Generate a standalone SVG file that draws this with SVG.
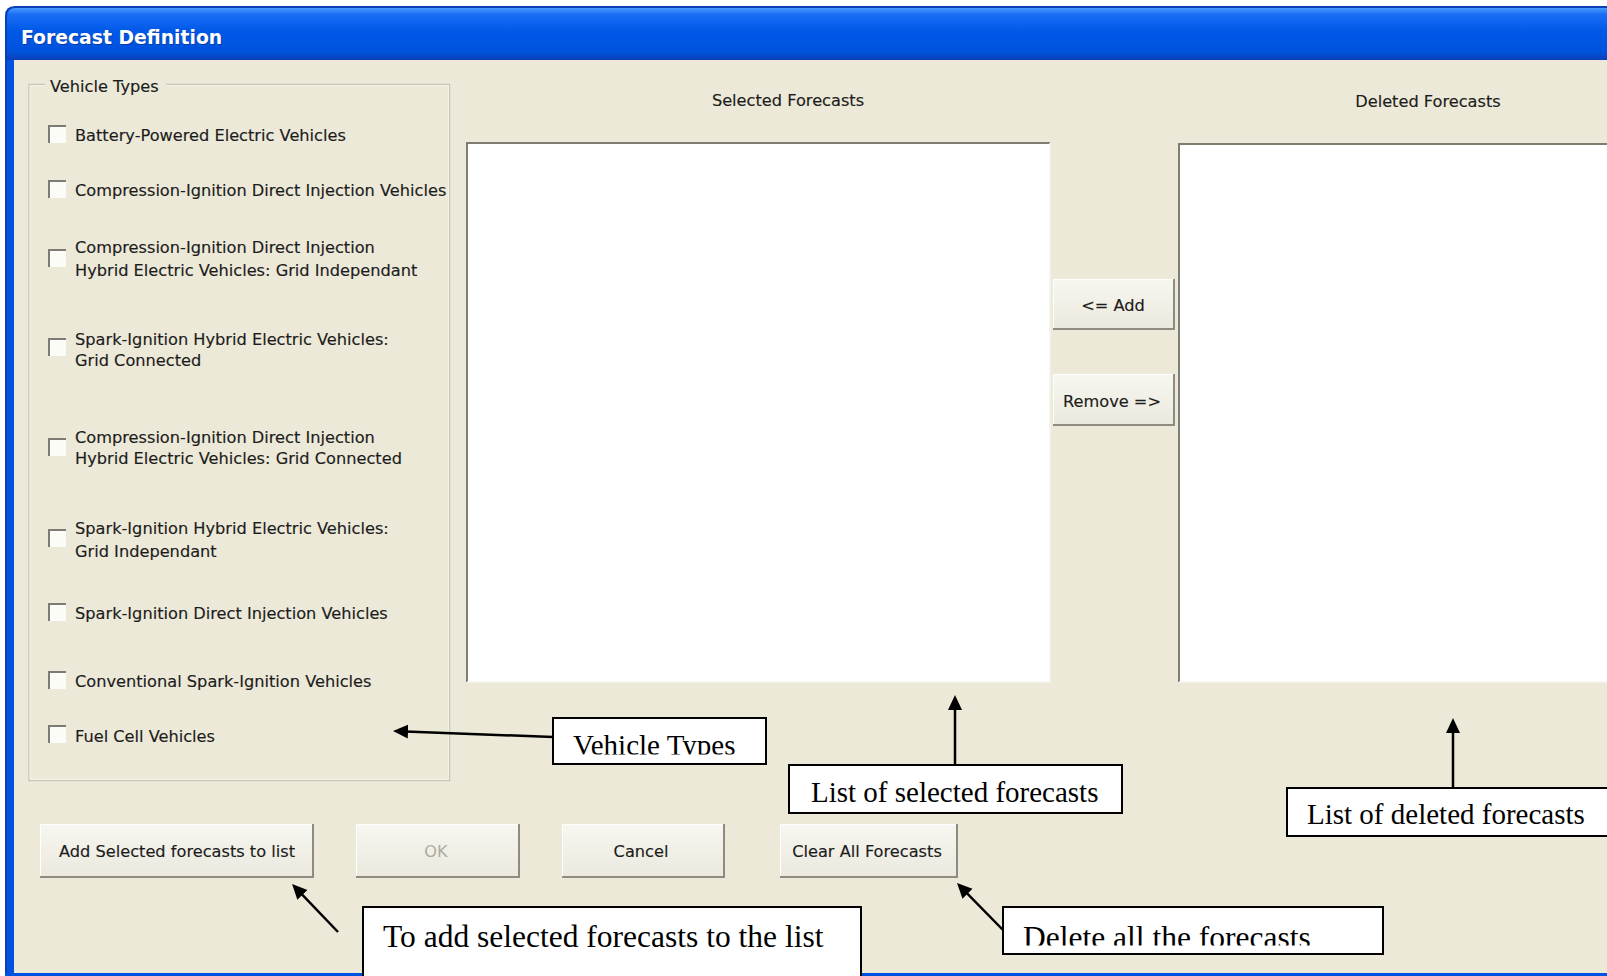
<svg xmlns="http://www.w3.org/2000/svg" width="1607" height="976" viewBox="0 0 1607 976">
<defs>
<linearGradient id="tb" x1="0" y1="0" x2="0" y2="1">
<stop offset="0" stop-color="#4a9bff"/>
<stop offset="0.12" stop-color="#1a6ef5"/>
<stop offset="0.45" stop-color="#0058e8"/>
<stop offset="0.85" stop-color="#0052dc"/>
<stop offset="1" stop-color="#0a3fb5"/>
</linearGradient>
<linearGradient id="btn" x1="0" y1="0" x2="0" y2="1">
<stop offset="0" stop-color="#f7f6f0"/>
<stop offset="1" stop-color="#ebe9dd"/>
</linearGradient>
<marker id="ah" markerUnits="userSpaceOnUse" markerWidth="16" markerHeight="16" refX="9" refY="7" orient="auto">
<path d="M0,0 L15,7 L0,14 z" fill="#000"/>
</marker>
<clipPath id="clipVT"><rect x="553" y="718" width="213" height="36.5"/></clipPath>
<clipPath id="clipDel"><rect x="1003" y="907" width="380" height="38.5"/></clipPath>
</defs>
<style>
.ui{font-family:"DejaVu Sans","Liberation Sans",sans-serif;font-size:16.2px;fill:#1c1c1c;stroke:#1c1c1c;stroke-width:0.15}
.ctr{text-anchor:middle}
.ann{font-family:"Liberation Serif","Times New Roman",serif;fill:#000}
.abox{fill:#fff;stroke:#000;stroke-width:2}
.cbf{fill:#fbfbf8}
.cbe{fill:none;stroke:#7c7b74;stroke-width:2}
.btnf{fill:url(#btn)}
.btnsh{fill:none;stroke:#8e8c82;stroke-width:2}
.btnhl{fill:none;stroke:#ffffff;stroke-width:1}
.conn{fill:none;stroke:#000;stroke-width:2.5;marker-end:url(#ah)}
</style>

<rect x="0" y="0" width="1607" height="976" fill="#ffffff"/>

<g id="window">
<path d="M5,976 L5,16 Q5,6 15,6 L1607,6 L1607,976 Z" fill="#0a3fb5"/>
<path d="M7,976 L7,17 Q7,8 16,8 L1607,8 L1607,976 Z" fill="#0053e0"/>
<rect x="14" y="60" width="1593" height="913" fill="#ece9d8"/>
</g>

<g id="titlebar">
<path d="M7,60 L7,17 Q7,8 16,8 L1607,8 L1607,60 Z" fill="url(#tb)"/>
<text x="22" y="45" font-family="DejaVu Sans, Liberation Sans, sans-serif" font-weight="bold" font-size="18.8" fill="#0a2c80" opacity="0.6">Forecast Definition</text>
<text x="21" y="44" font-family="DejaVu Sans, Liberation Sans, sans-serif" font-weight="bold" font-size="18.8" fill="#ffffff">Forecast Definition</text>
</g>

<g id="vehicle-types-group">
<path d="M45,84.5 L29,84.5 L29,780.5 L449.5,780.5 L449.5,84.5 L166,84.5" fill="none" stroke="#c9c6b6" stroke-width="1.5"/>
<path d="M45,85.5 L30,85.5 L30,779.5 L448.5,779.5 L448.5,85.5 L166,85.5" fill="none" stroke="#f6f5ef" stroke-width="0.8"/>
<text class="ui" x="50" y="92">Vehicle Types</text>
</g>

<g id="cb1">
<rect class="cbf" x="48" y="125" width="18" height="18"/><path class="cbe" d="M49,143 L49,126 L66,126"/>
<text class="ui" x="75" y="141">Battery-Powered Electric Vehicles</text>
</g>
<g id="cb2">
<rect class="cbf" x="48" y="180" width="18" height="18"/><path class="cbe" d="M49,198 L49,181 L66,181"/>
<text class="ui" x="75" y="196">Compression-Ignition Direct Injection Vehicles</text>
</g>
<g id="cb3">
<rect class="cbf" x="48" y="249" width="18" height="18"/><path class="cbe" d="M49,267 L49,250 L66,250"/>
<text class="ui" x="75" y="253">Compression-Ignition Direct Injection</text>
<text class="ui" x="75" y="276">Hybrid Electric Vehicles: Grid Independant</text>
</g>
<g id="cb4">
<rect class="cbf" x="48" y="338" width="18" height="18"/><path class="cbe" d="M49,356 L49,339 L66,339"/>
<text class="ui" x="75" y="345">Spark-Ignition Hybrid Electric Vehicles:</text>
<text class="ui" x="75" y="366">Grid Connected</text>
</g>
<g id="cb5">
<rect class="cbf" x="48" y="438" width="18" height="18"/><path class="cbe" d="M49,456 L49,439 L66,439"/>
<text class="ui" x="75" y="443">Compression-Ignition Direct Injection</text>
<text class="ui" x="75" y="464">Hybrid Electric Vehicles: Grid Connected</text>
</g>
<g id="cb6">
<rect class="cbf" x="48" y="529" width="18" height="18"/><path class="cbe" d="M49,547 L49,530 L66,530"/>
<text class="ui" x="75" y="534">Spark-Ignition Hybrid Electric Vehicles:</text>
<text class="ui" x="75" y="557">Grid Independant</text>
</g>
<g id="cb7">
<rect class="cbf" x="48" y="603" width="18" height="18"/><path class="cbe" d="M49,621 L49,604 L66,604"/>
<text class="ui" x="75" y="619">Spark-Ignition Direct Injection Vehicles</text>
</g>
<g id="cb8">
<rect class="cbf" x="48" y="671" width="18" height="18"/><path class="cbe" d="M49,689 L49,672 L66,672"/>
<text class="ui" x="75" y="687">Conventional Spark-Ignition Vehicles</text>
</g>
<g id="cb9">
<rect class="cbf" x="48" y="725" width="18" height="18"/><path class="cbe" d="M49,743 L49,726 L66,726"/>
<text class="ui" x="75" y="742">Fuel Cell Vehicles</text>
</g>

<g id="selected-list">
<text class="ui ctr" x="788" y="106">Selected Forecasts</text>
<rect x="466" y="142" width="584" height="540" fill="#ffffff"/>
<path d="M467,682 L467,143 L1050,143" fill="none" stroke="#7f7d72" stroke-width="2"/>
<path d="M1050,143 L1050,682 L467,682" fill="none" stroke="#f4f3ee" stroke-width="1.5"/>
</g>

<g id="deleted-list">
<text class="ui ctr" x="1428" y="107">Deleted Forecasts</text>
<rect x="1178" y="143" width="429" height="539" fill="#ffffff"/>
<path d="M1179,682 L1179,144 L1607,144" fill="none" stroke="#7f7d72" stroke-width="2"/>
<path d="M1179,682 L1607,682" fill="none" stroke="#f4f3ee" stroke-width="1.5"/>
</g>

<g id="btn-add">
<rect class="btnf" x="1053" y="279" width="122" height="51"/>
<path class="btnhl" d="M1053.5,329 L1053.5,279.5 L1174,279.5"/>
<path class="btnsh" d="M1053,329 L1174,329 L1174,279"/>
<text class="ui ctr" x="1113" y="311">&lt;= Add</text>
</g>
<g id="btn-remove">
<rect class="btnf" x="1053" y="374" width="122" height="52"/>
<path class="btnhl" d="M1053.5,425 L1053.5,374.5 L1174,374.5"/>
<path class="btnsh" d="M1053,425 L1174,425 L1174,374"/>
<text class="ui ctr" x="1112" y="407">Remove =&gt;</text>
</g>

<g id="btn-add-selected">
<rect class="btnf" x="40" y="824" width="274" height="54"/>
<path class="btnhl" d="M40.5,877 L40.5,824.5 L313,824.5"/>
<path class="btnsh" d="M40,877 L313,877 L313,824"/>
<text class="ui ctr" x="177" y="857">Add Selected forecasts to list</text>
</g>
<g id="btn-ok">
<rect class="btnf" x="356" y="824" width="164" height="54"/>
<path class="btnhl" d="M356.5,877 L356.5,824.5 L519,824.5"/>
<path class="btnsh" d="M356,877 L519,877 L519,824" stroke="#b5b3a8"/>
<text class="ui ctr" x="436" y="857" style="fill:#aeac9f;stroke:none">OK</text>
</g>
<g id="btn-cancel">
<rect class="btnf" x="562" y="824" width="163" height="54"/>
<path class="btnhl" d="M562.5,877 L562.5,824.5 L724,824.5"/>
<path class="btnsh" d="M562,877 L724,877 L724,824"/>
<text class="ui ctr" x="641" y="857">Cancel</text>
</g>
<g id="btn-clear">
<rect class="btnf" x="780" y="824" width="178" height="54"/>
<path class="btnhl" d="M780.5,877 L780.5,824.5 L957,824.5"/>
<path class="btnsh" d="M780,877 L957,877 L957,824"/>
<text class="ui ctr" x="867" y="857">Clear All Forecasts</text>
</g>

<g id="window-bottom">
<rect x="5" y="973" width="1602" height="3" fill="#0053e0"/>
</g>

<g id="connectors">
<line class="conn" x1="553" y1="737" x2="399" y2="731.2"/>
<line class="conn" x1="955" y1="765" x2="955" y2="701"/>
<line class="conn" x1="1453" y1="788" x2="1453" y2="724"/>
<line class="conn" x1="338" y1="932" x2="296.2" y2="888.3"/>
<line class="conn" x1="1003" y1="930" x2="961.2" y2="887.3"/>
</g>

<g id="note-vehicle-types">
<rect class="abox" x="553" y="718" width="213" height="46"/>
<text class="ann" x="573" y="755" font-size="29" clip-path="url(#clipVT)">Vehicle Types</text>
</g>
<g id="note-selected">
<rect class="abox" x="789" y="765" width="333" height="48"/>
<text class="ann" x="811" y="802" font-size="29">List of selected forecasts</text>
</g>
<g id="note-deleted">
<rect class="abox" x="1287" y="788" width="330" height="48"/>
<text class="ann" x="1307" y="824" font-size="29">List of deleted forecasts</text>
</g>
<g id="note-add">
<rect class="abox" x="363" y="907" width="498" height="80"/>
<text class="ann" x="383" y="947" font-size="31.5">To add selected forecasts to the list</text>
</g>
<g id="note-delete">
<rect class="abox" x="1003" y="907" width="380" height="47"/>
<text class="ann" x="1023" y="948" font-size="31.5" clip-path="url(#clipDel)">Delete all the forecasts</text>
</g>
</svg>
